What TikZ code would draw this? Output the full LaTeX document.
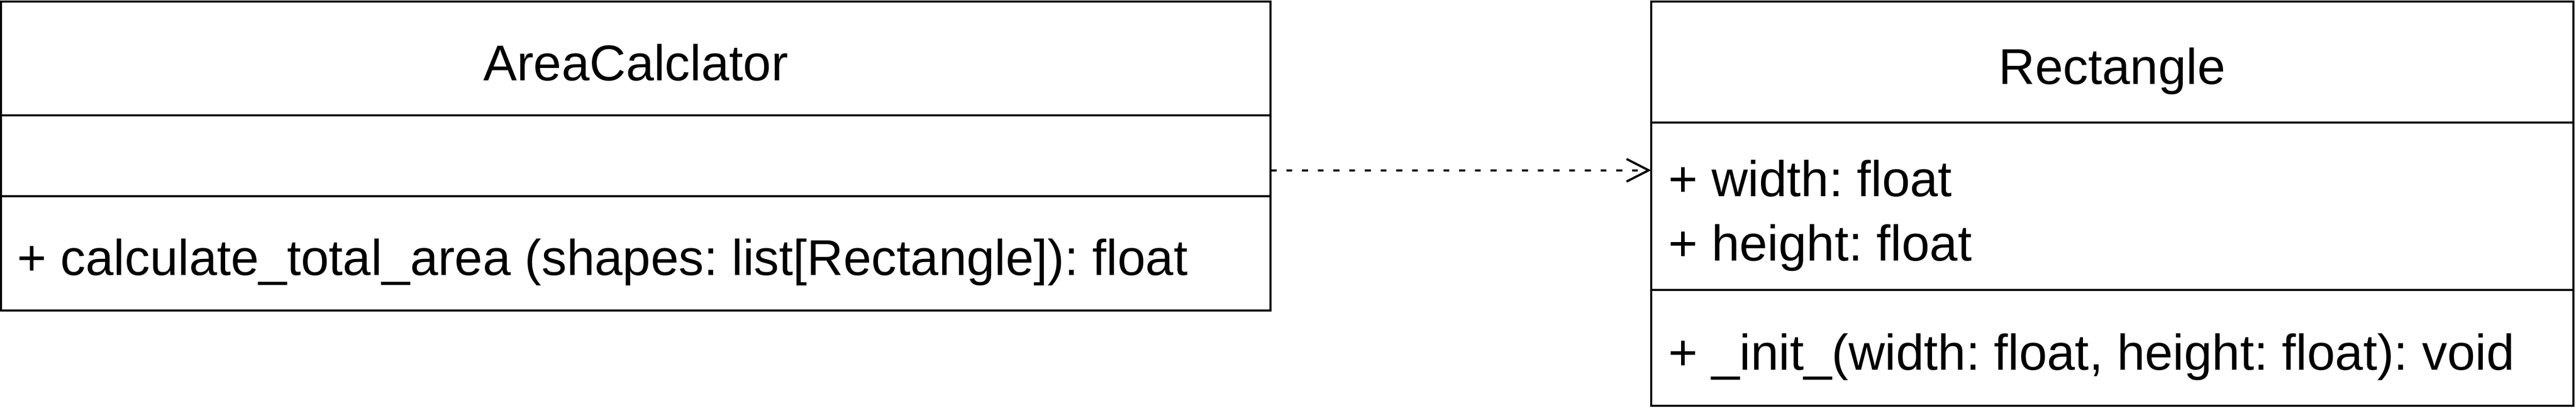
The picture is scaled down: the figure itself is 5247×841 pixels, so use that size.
\documentclass[tikz,border=0pt]{standalone}
\usepackage{fontspec}
\setmainfont{Liberation Sans}
\usetikzlibrary{arrows.meta}
\frenchspacing
\tikzset{
  umlpart/.style={draw=black, line width=0.9pt, fill=white},
  umlrule/.style={draw=black, line width=0.9pt},
  umltxt/.style={inner sep=0pt, font=\fontsize{20.5}{24}\selectfont, text=black},
  depline/.style={draw=black, line width=0.9pt, dash pattern=on 2.4pt off 4pt,
    -{Straight Barb[length=9pt,width=9.2pt,line width=0.9pt]}}
}
\begin{document}
\begin{tikzpicture}[x=0.2pt,y=-0.2pt]
\useasboundingbox (0,0) rectangle (5247,841);
\fill[white] (0,0) rectangle (5247,841);
% AreaCalclator class
\path[umlpart] (2,3) rectangle (2588,633);
\draw[umlrule] (2,235) -- (2588,235);
\draw[umlrule] (2,400) -- (2588,400);
\node[umltxt, anchor=base] (actitle) at (1295,164) {AreaCalclator};
\node[umltxt, anchor=base west] (acop) at (34,561) {+ calculate\_total\_area (shapes: list[Rectangle]): float};
% Rectangle class
\path[umlpart] (3363,3) rectangle (5242,827);
\coordinate (rcW) at (3363,347);
\draw[umlrule] (3363,250) -- (5242,250);
\draw[umlrule] (3363,591) -- (5242,591);
\node[umltxt, anchor=base] (rctitle) at (4302,172) {Rectangle};
\node[umltxt, anchor=base west] (rcw) at (3397,400) {+ width: float};
\node[umltxt, anchor=base west] (rch) at (3397,532) {+ height: float};
\node[umltxt, anchor=base west] (rcop) at (3397,754) {+ \_init\_(width: float, height: float): void};
% dependency
\coordinate (acE) at (2588,347);
\draw[depline] (acE) -- (rcW);
\end{tikzpicture}
\end{document}
